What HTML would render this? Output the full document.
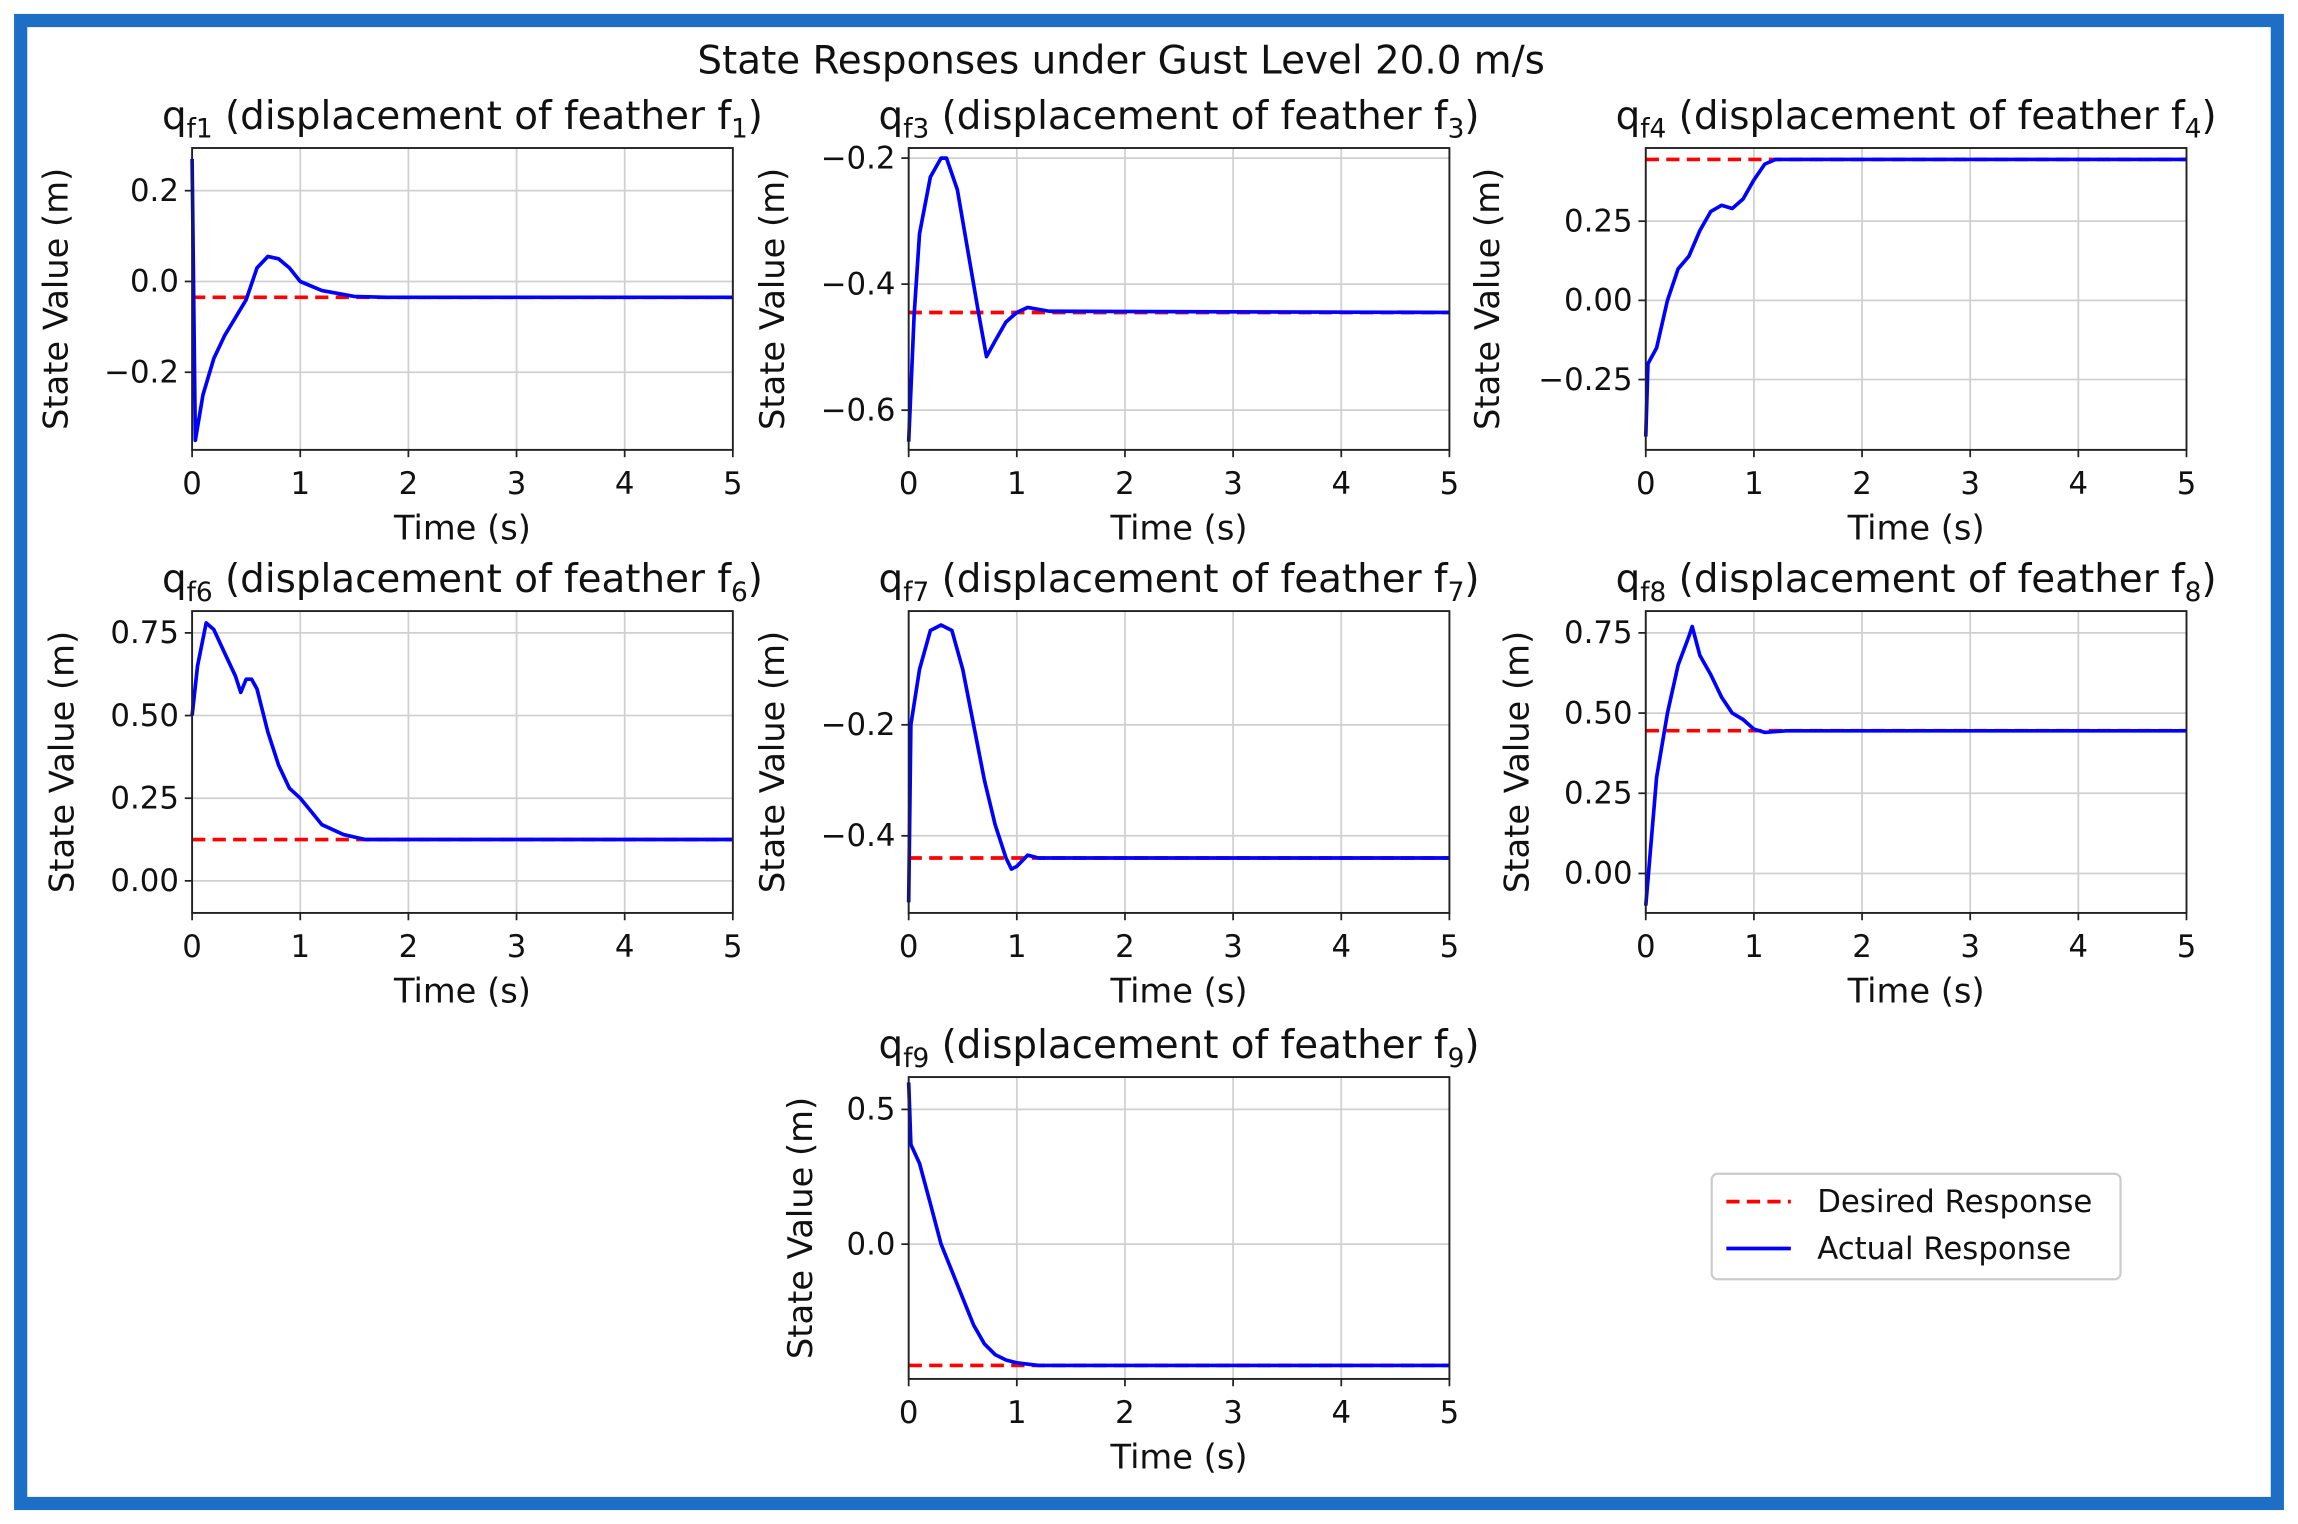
<!DOCTYPE html>
<html><head><meta charset="utf-8"><style>
html,body{margin:0;padding:0;background:#fff}
svg{display:block;font-family:"DejaVu Sans","Liberation Sans",sans-serif}
</style></head><body>
<svg id="fig" width="2298" height="1524" viewBox="0 0 1568 1040" xmlns="http://www.w3.org/2000/svg">
<rect x="0" y="0" width="1568" height="1040" fill="#fff"/>
<rect x="14" y="14" width="1540" height="1012" fill="none" stroke="#1d6fc6" stroke-width="9"/>
<text x="765" y="50" font-size="26.5" text-anchor="middle" fill="#111">State Responses under Gust Level 20.0 m/s</text>
<g id="plots"></g>
<g>
<rect x="1168" y="801" width="279" height="72" rx="4" fill="#fff" stroke="#ccc" stroke-width="1.5"/>
<line x1="1178" y1="820" x2="1222" y2="820" stroke="#f00" stroke-width="2.5" stroke-dasharray="9,5"/>
<text x="1240" y="827" font-size="21" fill="#111">Desired Response</text>
<line x1="1178" y1="852" x2="1222" y2="852" stroke="#00f" stroke-width="2.5"/>
<text x="1240" y="859" font-size="21" fill="#111">Actual Response</text>
</g>
</svg>
<script>
const xTicks=[0,1,2,3,4,5];
// f1
const t1=[0,0.03,0.1,0.2,0.3,0.4,0.5,0.6,0.7,0.8,0.9,1.0,1.2,1.5,1.8,5];
const v1=[0.27,-0.35,-0.25,-0.17,-0.12,-0.08,-0.04,0.03,0.055,0.05,0.03,0.0,-0.02,-0.033,-0.035,-0.035];
const yt1=[0.2,0.0,-0.2]; const yl1=["0.2","0.0","−0.2"]; const d1=-0.035;
// f3
const t3=[0,0.05,0.1,0.2,0.3,0.35,0.45,0.55,0.65,0.72,0.8,0.9,1.0,1.1,1.3,5];
const v3=[-0.65,-0.45,-0.32,-0.23,-0.2,-0.2,-0.25,-0.35,-0.45,-0.515,-0.49,-0.46,-0.445,-0.437,-0.443,-0.445];
const yt3=[-0.2,-0.4,-0.6]; const yl3=["−0.2","−0.4","−0.6"]; const d3=-0.445;
// f4
const t4=[0,0.02,0.1,0.2,0.3,0.4,0.5,0.6,0.7,0.8,0.9,1.0,1.1,1.2,5];
const v4=[-0.43,-0.2,-0.15,0.0,0.1,0.14,0.22,0.28,0.3,0.29,0.32,0.38,0.43,0.445,0.445];
const yt4=[0.25,0.0,-0.25]; const yl4=["0.25","0.00","−0.25"]; const d4=0.445;
// f6
const t6=[0,0.05,0.13,0.2,0.3,0.4,0.45,0.5,0.55,0.6,0.7,0.8,0.9,1.0,1.1,1.2,1.4,1.6,5];
const v6=[0.5,0.65,0.78,0.76,0.69,0.62,0.57,0.61,0.61,0.58,0.45,0.35,0.28,0.25,0.21,0.17,0.14,0.125,0.125];
const yt6=[0.75,0.5,0.25,0.0]; const yl6=["0.75","0.50","0.25","0.00"]; const d6=0.125;
// f7
const t7=[0,0.02,0.1,0.2,0.3,0.4,0.5,0.6,0.7,0.8,0.9,0.95,1.0,1.1,1.2,5];
const v7=[-0.52,-0.2,-0.1,-0.03,-0.02,-0.03,-0.1,-0.2,-0.3,-0.38,-0.44,-0.46,-0.455,-0.435,-0.44,-0.44];
const yt7=[-0.2,-0.4]; const yl7=["−0.2","−0.4"]; const d7=-0.44;
// f8
const t8=[0,0.05,0.1,0.2,0.3,0.4,0.43,0.5,0.6,0.7,0.8,0.9,1.0,1.1,1.3,5];
const v8=[-0.1,0.1,0.3,0.5,0.65,0.74,0.77,0.68,0.62,0.55,0.5,0.48,0.45,0.44,0.445,0.445];
const yt8=[0.75,0.5,0.25,0.0]; const yl8=["0.75","0.50","0.25","0.00"]; const d8=0.445;
// f9
const t9=[0,0.02,0.1,0.2,0.3,0.4,0.5,0.6,0.7,0.8,0.9,1.0,1.2,5];
const v9=[0.6,0.37,0.3,0.15,0.0,-0.1,-0.2,-0.3,-0.37,-0.41,-0.43,-0.44,-0.45,-0.45];
const yt9=[0.5,0.0]; const yl9=["0.5","0.0"]; const d9=-0.45;

const plots=[
 {n:"1",x:131,y:101,ymin:-0.371,ymax:0.294,t:t1,v:v1,yt:yt1,yl:yl1,d:d1,ylx:46},
 {n:"3",x:620,y:101,ymin:-0.663,ymax:-0.184,t:t3,v:v3,yt:yt3,yl:yl3,d:d3,ylx:535},
 {n:"4",x:1123,y:101,ymin:-0.472,ymax:0.481,t:t4,v:v4,yt:yt4,yl:yl4,d:d4,ylx:1023},
 {n:"6",x:131,y:417,ymin:-0.097,ymax:0.816,t:t6,v:v6,yt:yt6,yl:yl6,d:d6,ylx:50},
 {n:"7",x:620,y:417,ymin:-0.539,ymax:0.005,t:t7,v:v7,yt:yt7,yl:yl7,d:d7,ylx:535},
 {n:"8",x:1123,y:417,ymin:-0.123,ymax:0.818,t:t8,v:v8,yt:yt8,yl:yl8,d:d8,ylx:1043},
 {n:"9",x:620,y:735,ymin:-0.5,ymax:0.62,t:t9,v:v9,yt:yt9,yl:yl9,d:d9,ylx:554}
];
const NS="http://www.w3.org/2000/svg";
const root=document.getElementById("plots");
function mk(tag,attrs,parent){const e=document.createElementNS(NS,tag);for(const k in attrs)e.setAttribute(k,attrs[k]);parent.appendChild(e);return e;}
const W=369,H=206;
plots.forEach(p=>{
 const g=mk("g",{},root);
 
 
 const sx=t=>p.x+t/5*W;
 const sy=v=>p.y+(p.ymax-v)/(p.ymax-p.ymin)*H;
 mk("rect",{x:p.x,y:p.y,width:W,height:H,fill:"#fff"},g);
 xTicks.forEach(t=>{
  mk("line",{x1:sx(t),y1:p.y,x2:sx(t),y2:p.y+H,stroke:"#d0d0d0","stroke-width":1.2},g);
  mk("line",{x1:sx(t),y1:p.y+H,x2:sx(t),y2:p.y+H+5,stroke:"#222","stroke-width":1.2},g);
  const tx=mk("text",{x:sx(t),y:p.y+H+30,"font-size":21,"text-anchor":"middle",fill:"#111"},g);
  
  
  tx.textContent=t;
 });
 p.yt.forEach((v,i)=>{
  mk("line",{x1:p.x,y1:sy(v),x2:p.x+W,y2:sy(v),stroke:"#d0d0d0","stroke-width":1.2},g);
  mk("line",{x1:p.x-5,y1:sy(v),x2:p.x,y2:sy(v),stroke:"#222","stroke-width":1.2},g);
  const tx=mk("text",{x:p.x-9,y:sy(v)+7,"font-size":21,"text-anchor":"end",fill:"#111"},g);
  
  
  tx.textContent=p.yl[i];
 });
 const dl=mk("line",{x1:sx(0),y1:sy(p.d),x2:sx(5),y2:sy(p.d),stroke:"#f00","stroke-width":2.5,"stroke-dasharray":"9,5"},g);
 
 
 const pts=p.t.map((t,i)=>sx(t).toFixed(1)+","+sy(p.v[i]).toFixed(1)).join(" ");
 const al=mk("polyline",{points:pts,fill:"none",stroke:"#00f","stroke-width":2.5,"stroke-linejoin":"round"},g);
 
 
 mk("rect",{x:p.x,y:p.y,width:W,height:H,fill:"none",stroke:"#222","stroke-width":1.3},g);
 const ti=mk("text",{x:p.x+W/2,y:p.y-13,"font-size":26.5,"text-anchor":"middle",fill:"#111"},g);
 
 
 ti.innerHTML='q<tspan font-size="18" dy="6">f'+p.n+'</tspan><tspan dy="-6"> (displacement of feather f</tspan><tspan font-size="18" dy="6">'+p.n+'</tspan><tspan dy="-6">)</tspan>';
 const xl=mk("text",{x:p.x+W/2,y:p.y+H+61,"font-size":23,"text-anchor":"middle",fill:"#111"},g);
 
 
 xl.textContent="Time (s)";
 const cy=p.y+H/2;
 const yl=mk("text",{x:p.ylx,y:cy,"font-size":23,"text-anchor":"middle",fill:"#111",transform:"rotate(-90 "+p.ylx+" "+cy+")"},g);
 
 
 yl.textContent="State Value (m)";
});
</script>
</body></html>
